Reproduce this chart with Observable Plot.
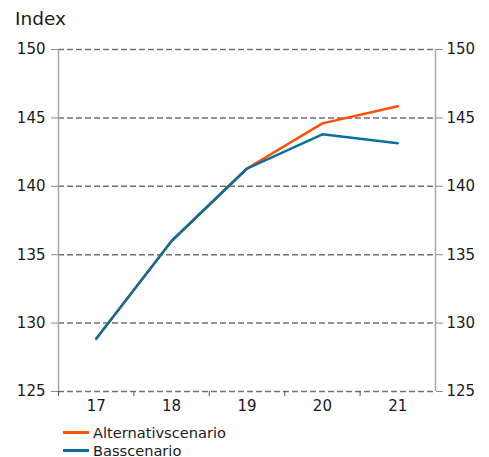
<!DOCTYPE html>
<html>
<head>
<meta charset="utf-8">
<script src="https://cdn.jsdelivr.net/npm/d3@7"></script>
<script src="https://cdn.jsdelivr.net/npm/@observablehq/plot@0.6"></script>
<style>
  body { margin: 0; background: #fff; font-family: "DejaVu Sans", Verdana, sans-serif; }
  #wrap { position: relative; width: 489px; height: 457px; overflow: hidden; }
  #ylabel { position: absolute; left: 15px; top: 10px; font-size: 18.5px; line-height: 18.5px; color: #1a1a1a; }
  #chart { position: absolute; left: 0; top: 0; }
  #legend { position: absolute; left: 63px; top: 423px; font-size: 14.6px; color: #1a1a1a; }
  .row { display: flex; align-items: center; height: 18px; }
  .sw { width: 26px; height: 3px; margin-right: 4px; }
</style>
</head>
<body>
<div id="wrap">
  <div id="chart"></div>
  <div id="ylabel">Index</div>
  <div id="legend"></div>
</div>
<script>
const years = [17, 18, 19, 20, 21];
const alternativ = [128.85, 136.0, 141.3, 144.6, 145.85];
const bas = [128.85, 136.0, 141.3, 143.8, 143.15];
const seriesNames = ["Alternativscenario", "Basscenario"];
const seriesColors = ["#fe5000", "#0b6e9f"];
const yTicks = [125, 130, 135, 140, 145, 150];
const xBoundaries = [16.5, 17.5, 18.5, 19.5, 20.5];

const data = [
  ...years.map((x, i) => ({x, y: alternativ[i], s: seriesNames[0]})),
  ...years.map((x, i) => ({x, y: bas[i], s: seriesNames[1]}))
];

const chart = Plot.plot({
  width: 489,
  height: 415,
  marginTop: 49,
  marginBottom: 24,
  marginLeft: 58,
  marginRight: 54,
  style: { fontFamily: "DejaVu Sans, Verdana, sans-serif", fontSize: "15px", color: "#1a1a1a", background: "white" },
  x: { domain: [16.5, 21.5] },
  y: { domain: [125, 150] },
  color: { domain: seriesNames, range: seriesColors },
  marks: [
    Plot.ruleY(yTicks, { stroke: "#707070", strokeWidth: 1.5, strokeDasharray: "6,3" }),
    Plot.ruleX([16.5, 21.5], { y1: 125, y2: 150, stroke: "#a6a6a6", strokeWidth: 1.5 }),
    Plot.axisY({ anchor: "left", ticks: yTicks, tickSize: 7, tickPadding: 6, stroke: "#8a8a8a", label: null, tickFormat: d => String(d) }),
    Plot.axisY({ anchor: "right", ticks: yTicks, tickSize: 7, tickPadding: 4, stroke: "#8a8a8a", label: null, tickFormat: d => String(d) }),
    Plot.axisX({ ticks: xBoundaries, tickSize: 5, stroke: "#555", tickFormat: () => "", label: null }),
    Plot.axisX({ ticks: years, tickSize: 0, tickPadding: 9, label: null, tickFormat: d => String(d) }),
    Plot.line(data.filter(d => d.s === seriesNames[0]), { x: "x", y: "y", stroke: "s", strokeWidth: 2.5 }),
    Plot.line(data.filter(d => d.s === seriesNames[1]), { x: "x", y: "y", stroke: "s", strokeWidth: 2.5 })
  ]
});
document.getElementById("chart").appendChild(chart);

const legend = document.getElementById("legend");
seriesNames.forEach((name, i) => {
  const row = document.createElement("div");
  row.className = "row";
  const sw = document.createElement("div");
  sw.className = "sw";
  sw.style.background = seriesColors[i];
  const t = document.createElement("span");
  t.textContent = name;
  row.appendChild(sw);
  row.appendChild(t);
  legend.appendChild(row);
});
</script>
</body>
</html>
